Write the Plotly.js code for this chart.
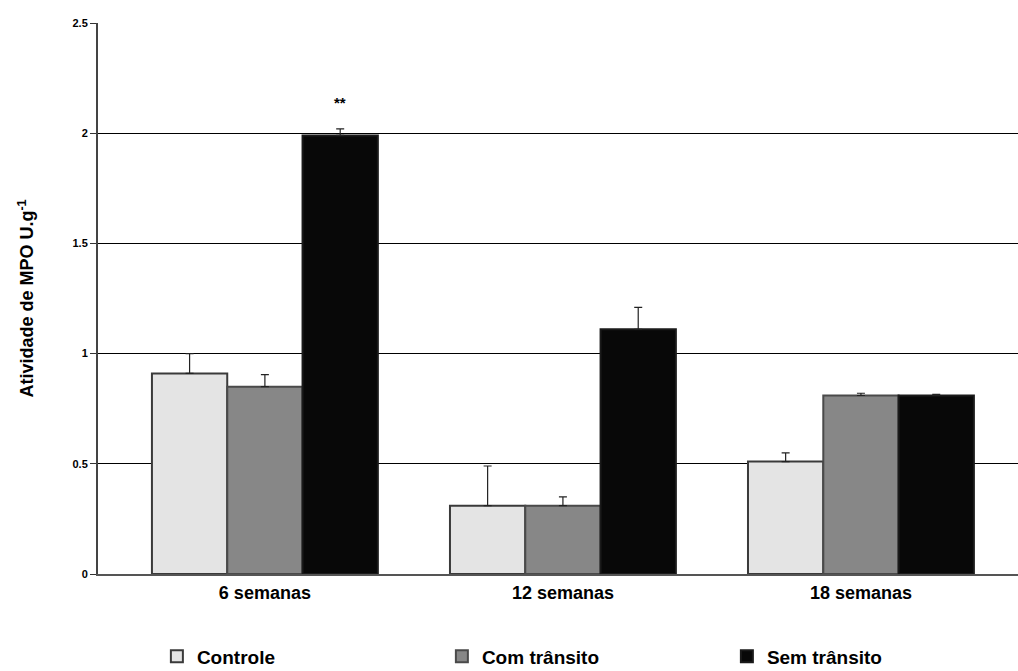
<!DOCTYPE html>
<html>
<head>
<meta charset="utf-8">
<script src="https://cdn.plot.ly/plotly-3.0.1.min.js"></script>
<style>html,body{margin:0;padding:0;background:#fff;}#chart{width:1018px;height:671px;}</style>
</head>
<body>
<div id="chart"></div>
<script>
var categories = ['6 semanas', '12 semanas', '18 semanas'];
var seriesNames = ['Controle', 'Com trânsito', 'Sem trânsito'];
var controle = [0.91, 0.31, 0.51];
var controleErr = [0.09, 0.18, 0.04];
var comTransito = [0.85, 0.31, 0.81];
var comTransitoErr = [0.055, 0.04, 0.01];
var semTransito = [1.99, 1.11, 0.81];
var semTransitoErr = [0.03, 0.10, 0.005];
var yTicks = [0, 0.5, 1, 1.5, 2, 2.5];
var yTickLabels = ['0', '0.5', '1', '1.5', '2', '2.5'];
var significance = {category: 0, series: 2, label: '**', y: 2.14};

var fills = ['#e4e4e4', '#878787', '#080808'];
var lines = ['#3a3a3a', '#4a4a4a', '#1a1a1a'];
var values = [controle, comTransito, semTransito];
var errs = [controleErr, comTransitoErr, semTransitoErr];

var traces = values.map(function (v, i) {
  return {
    type: 'bar',
    name: seriesNames[i],
    x: categories,
    y: v,
    marker: {color: fills[i], line: {color: lines[i], width: 2}},
    error_y: {type: 'data', array: errs[i], arrayminus: v.map(function(){return 0;}), symmetric: false,
              color: '#222', thickness: 1.2, width: 4},
    hoverinfo: 'x+y+name'
  };
});

var groupWidth = 1 - 0.242;
var layout = {
  width: 1018, height: 671,
  margin: {l: 98, r: 0, t: 23, b: 97, autoexpand: false},
  paper_bgcolor: '#fff', plot_bgcolor: '#fff',
  barmode: 'group', bargap: 0.242, bargroupgap: 0,
  font: {family: 'Liberation Sans, Arial, sans-serif', color: '#000'},
  xaxis: {
    type: 'category', range: [-0.56, 2.527], automargin: false,
    tickfont: {size: 18, family: 'Liberation Sans, Arial, sans-serif', weight: 'bold'},
    showline: true, linecolor: '#555', linewidth: 1.5, ticks: '', showgrid: false,
    ticklabelstandoff: 2
  },
  yaxis: {
    range: [0, 2.5], tickvals: yTicks, ticktext: yTickLabels, automargin: false,
    tickfont: {size: 11, weight: 'bold'},
    ticks: 'outside', ticklen: 6, tickcolor: '#333', tickwidth: 1,
    showline: true, linecolor: '#444', linewidth: 2,
    showgrid: true, gridcolor: '#000', gridwidth: 1,
    zeroline: false,
    title: {text: 'Atividade de MPO U.g<sup>-1</sup>', font: {size: 18, weight: 'bold'}, standoff: 34}
  },
  showlegend: true,
  legend: {
    orientation: 'h', x: 0.064, xanchor: 'left', y: -0.115, yanchor: 'top',
    font: {size: 19, family: 'Liberation Sans Narrow, Liberation Sans, Arial, sans-serif', weight: 'bold'},
    entrywidth: 240, itemwidth: 30, traceorder: 'normal'
  },
  annotations: [{
    x: significance.category + (significance.series - 1) * groupWidth / 3,
    y: significance.y, xref: 'x', yref: 'y',
    text: significance.label, showarrow: false,
    font: {size: 15, weight: 'bold', color: '#000'}
  }]
};

Plotly.newPlot('chart', traces, layout, {displayModeBar: false, staticPlot: true});
</script>
</body>
</html>
